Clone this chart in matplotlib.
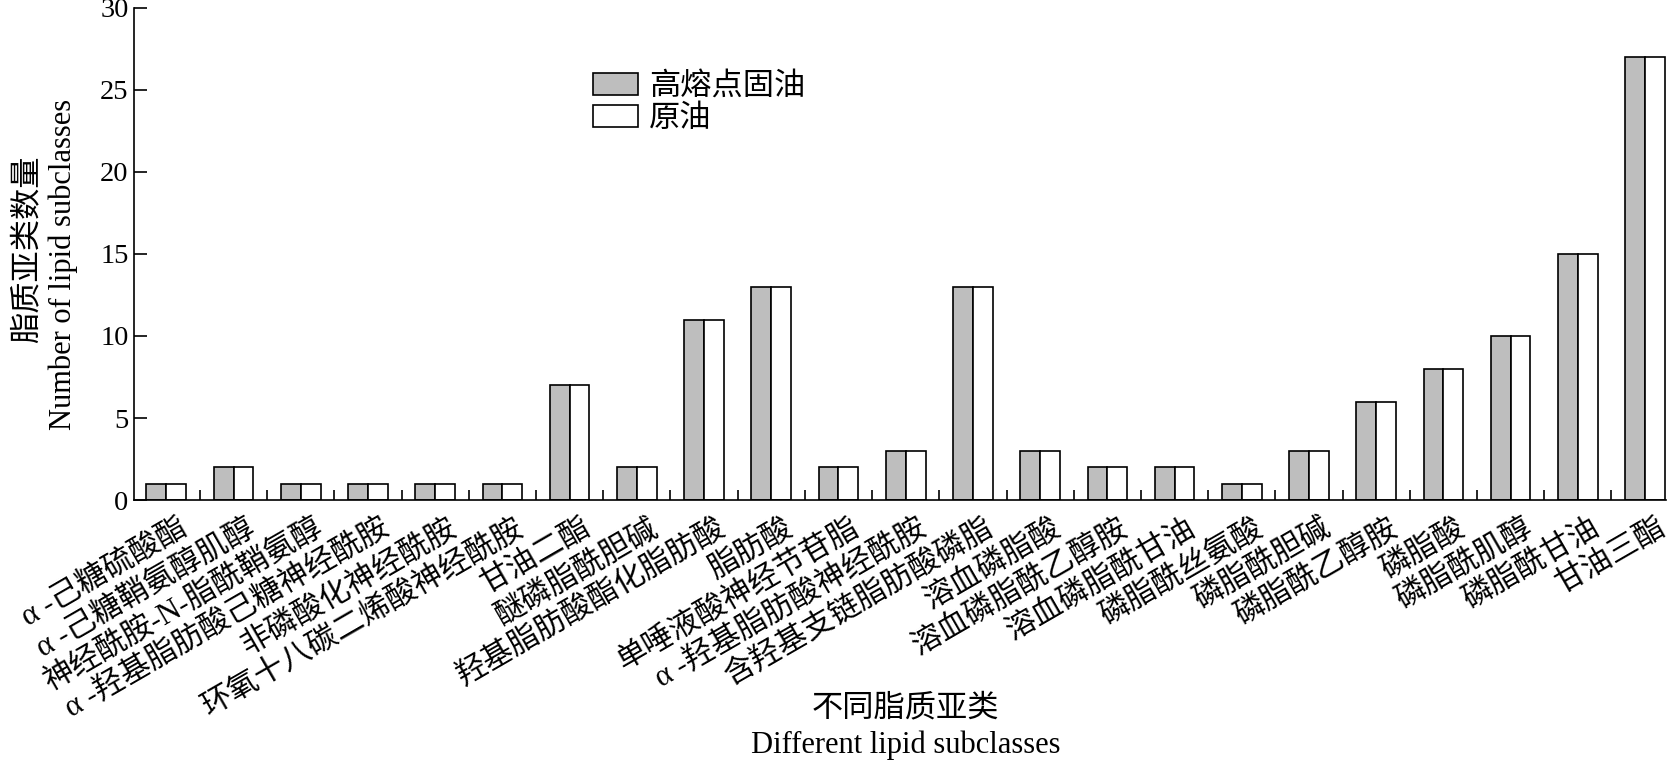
import matplotlib
matplotlib.use('Agg')
import matplotlib.pyplot as plt
import matplotlib.transforms as mtransforms
import numpy as np

plt.rcParams['font.family'] = ['Liberation Serif', 'Noto Sans CJK SC']

categories = ['α -己糖硫酸酯', 'α -己糖鞘氨醇肌醇', '神经酰胺-N-脂酰鞘氨醇', 'α -羟基脂肪酸己糖神经酰胺',
              '非磷酸化神经酰胺', '环氧十八碳二烯酸神经酰胺', '甘油二酯', '醚磷脂酰胆碱',
              '羟基脂肪酸酯化脂肪酸', '脂肪酸', '单唾液酸神经节苷脂', 'α -羟基脂肪酸神经酰胺',
              '含羟基支链脂肪酸磷脂', '溶血磷脂酸', '溶血磷脂酰乙醇胺', '溶血磷脂酰甘油',
              '磷脂酰丝氨酸', '磷脂酰胆碱', '磷脂酰乙醇胺', '磷脂酸', '磷脂酰肌醇', '磷脂酰甘油', '甘油三酯']
high_melt = [1, 2, 1, 1, 1, 1, 7, 2, 11, 13, 2, 3, 13, 3, 2, 2, 1, 3, 6, 8, 10, 15, 27]
crude = [1, 2, 1, 1, 1, 1, 7, 2, 11, 13, 2, 3, 13, 3, 2, 2, 1, 3, 6, 8, 10, 15, 27]
series_names = ['高熔点固油', '原油']
yticks = [0, 5, 10, 15, 20, 25, 30]

fs = 22
fig = plt.figure(figsize=(16.8, 7.67), dpi=100)
ax = fig.add_axes([0.0798, 0.348, 0.912, 0.642])

x = np.arange(len(categories))
w = 0.295
ax.bar(x - w / 2, high_melt, w, color='#bebebe', edgecolor='black', linewidth=1.2, label=series_names[0])
ax.bar(x + w / 2, crude, w, color='white', edgecolor='black', linewidth=1.2, label=series_names[1])

ax.set_xlim(-0.48, len(categories) - 1 + w + 0.02)
ax.set_ylim(0, 30)
ax.set_yticks(yticks)
ax.tick_params(axis='y', direction='in', length=9, width=1.2, labelsize=20.5, pad=4)

ax.set_xticks(x)
ax.set_xticklabels(categories, rotation=30, ha='right', va='top', rotation_mode='anchor', fontsize=fs)
ax.set_xticks(x[:-1] + 0.5, minor=True)
ax.tick_params(axis='x', which='major', length=0, pad=10)
ax.tick_params(axis='x', which='minor', direction='in', length=7, width=1.2)
offset = mtransforms.ScaledTranslation(12 / 100, 0, fig.dpi_scale_trans)
for lab in ax.get_xticklabels():
    lab.set_transform(lab.get_transform() + offset)

for s in ['top', 'right']:
    ax.spines[s].set_visible(False)
for s in ['left', 'bottom']:
    ax.spines[s].set_linewidth(1.2)

fig.text(28 / 1680, 0.675, '脂质亚类数量', rotation=90, ha='center', va='center', fontsize=22.5)
fig.text(63 / 1680, 0.655, 'Number of lipid subclasses', rotation=90, ha='center', va='center', fontsize=22)
fig.text(0.539, 0.0756, '不同脂质亚类', ha='center', va='center', fontsize=22.5)
fig.text(0.539, 0.029, 'Different lipid subclasses', ha='center', va='center', fontsize=22)

ax.legend(loc='upper left', bbox_to_anchor=(0.353, 0.905), bbox_transform=fig.transFigure,
          frameon=False, fontsize=22.5, borderaxespad=0, borderpad=0, handlelength=1.45,
          handleheight=0.7, handletextpad=0.35, labelspacing=0.1)

fig.savefig('out.png', dpi=100)
